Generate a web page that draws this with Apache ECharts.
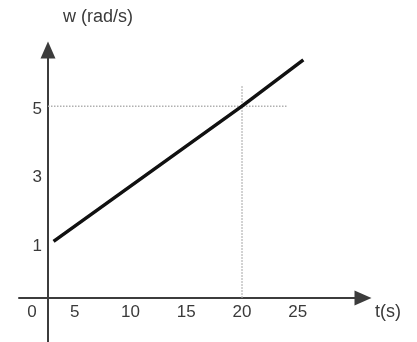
<!DOCTYPE html>
<html>
<head>
<meta charset="utf-8">
<script src="https://cdn.jsdelivr.net/npm/echarts@6/dist/echarts.min.js"></script>
<style>
  html, body { margin: 0; padding: 0; background: #fff; }
  #chart { width: 417px; height: 342px; }
</style>
</head>
<body>
<div id="chart"></div>
<script>
// speed line w(t)
var tValues = [3.1, 20, 25.5];
var wValues = [1.05, 5, 6.35];

// dotted guide lines at t = 20, w = 5
var hGuideT = [2.6, 24.0];
var hGuideW = [5, 5];
var vGuideT = [20, 20];
var vGuideW = [-0.6, 5.6];

var xTicks = [0, 5, 10, 15, 20, 25];
var yTicks = [1, 3, 5];

var chart = echarts.init(document.getElementById("chart"));

function pairs(xs, ys) {
  return xs.map(function (x, i) { return [x, ys[i]]; });
}

var axisColor = "#3c3c3c";
var textColor = "#3a3a3a";
var font = "Liberation Sans, Arial, sans-serif";

var option = {
  animation: false,
  grid: { left: 19, right: 54, top: 50, bottom: 0 },
  xAxis: {
    type: "value",
    min: 0,
    max: 30.85,
    offset: -44,
    name: "{p|t(s)}",
    nameLocation: "end",
    nameGap: 12,
    nameTextStyle: {
      rich: { p: { color: textColor, fontSize: 18, fontFamily: font, padding: [28, 0, 0, 0] } }
    },
    axisLine: {
      onZero: false,
      symbol: ["none", "triangle"],
      symbolSize: [15, 17],
      lineStyle: { color: axisColor, width: 2 }
    },
    axisTick: { show: false },
    splitLine: { show: false },
    axisLabel: {
      customValues: xTicks,
      margin: 6,
      color: textColor,
      fontSize: 17,
      fontFamily: font,
      formatter: function (v) { return v === 0 ? "{z|0}" : String(v); },
      rich: { z: { fontSize: 17, fontFamily: font, color: textColor, padding: [0, 0, 0, 26] } }
    }
  },
  yAxis: {
    type: "value",
    min: -1.89,
    max: 6.64,
    offset: -29,
    name: "w (rad/s)",
    nameLocation: "end",
    nameGap: 24,
    nameTextStyle: { color: textColor, fontSize: 18, fontFamily: font, align: "left", padding: [0, 0, 0, 15] },
    axisLine: {
      onZero: false,
      symbol: ["none", "triangle"],
      symbolSize: [15, 17],
      lineStyle: { color: axisColor, width: 2 }
    },
    axisTick: { show: false },
    splitLine: { show: false },
    axisLabel: {
      customValues: yTicks,
      margin: 6,
      formatter: function (v) { return "{p|" + v + "}"; },
      rich: { p: { color: textColor, fontSize: 17, fontFamily: font, padding: [6, 0, 0, 0] } }
    }
  },
  series: [
    {
      type: "line",
      data: pairs(hGuideT, hGuideW),
      symbol: "none",
      lineStyle: { color: "#b0b0b0", width: 1.5, type: "dotted" },
      z: 1
    },
    {
      type: "line",
      data: pairs(vGuideT, vGuideW),
      symbol: "none",
      lineStyle: { color: "#b0b0b0", width: 1.5, type: "dotted" },
      z: 1
    },
    {
      type: "line",
      data: pairs(tValues, wValues),
      symbol: "none",
      lineStyle: { color: "#111", width: 3.5 },
      z: 3
    }
  ]
};

chart.setOption(option);
</script>
</body>
</html>
